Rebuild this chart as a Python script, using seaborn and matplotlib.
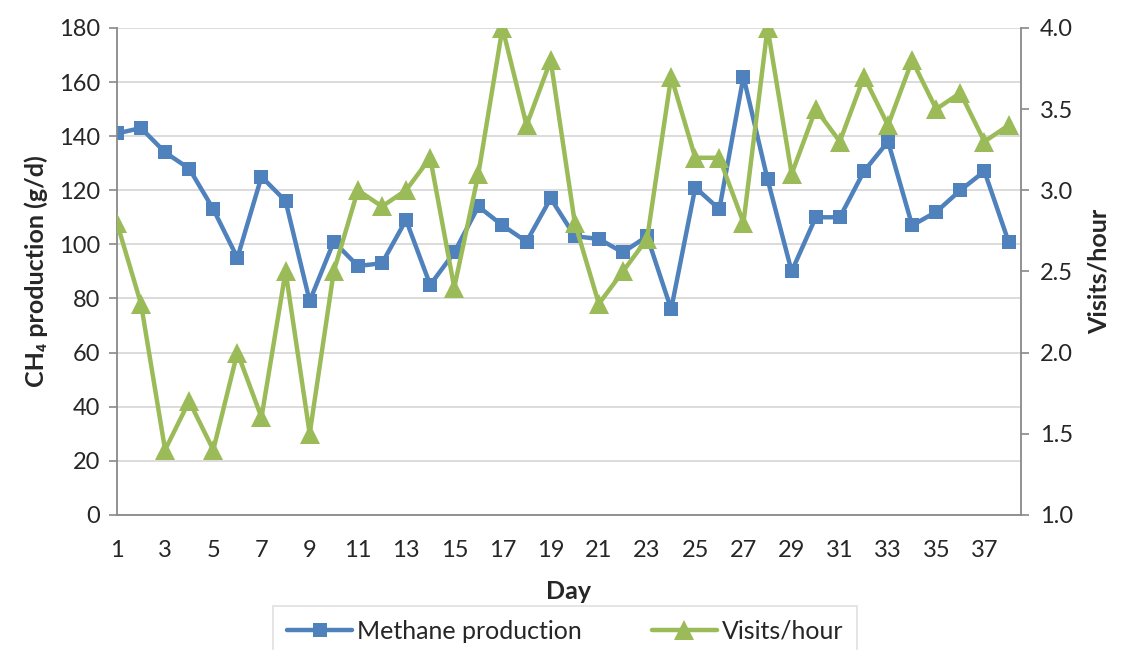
import matplotlib
matplotlib.use('Agg')
import matplotlib.pyplot as plt
import seaborn as sns
import pandas as pd
from matplotlib.ticker import MultipleLocator, FormatStrFormatter

days = list(range(1, 39))
methane = [141, 143, 134, 128, 113, 95, 125, 116, 79, 101,
           92, 93, 109, 85, 97, 114, 107, 101, 117, 103,
           102, 97, 103, 76, 121, 113, 162, 124, 90, 110,
           110, 127, 138, 107, 112, 120, 127, 101]
visits = [2.8, 2.3, 1.4, 1.7, 1.4, 2.0, 1.6, 2.5, 1.5, 2.5,
          3.0, 2.9, 3.0, 3.2, 2.4, 3.1, 4.0, 3.4, 3.8, 2.8,
          2.3, 2.5, 2.7, 3.7, 3.2, 3.2, 2.8, 4.0, 3.1, 3.5,
          3.3, 3.7, 3.4, 3.8, 3.5, 3.6, 3.3, 3.4]

blue = '#4F81BD'
green = '#9BBB59'
axis_grey = '#898989'

sns.set_style('white')
plt.rcParams['font.family'] = ['Lato', 'DejaVu Sans']

df = pd.DataFrame({'day': days, 'methane': methane, 'visits': visits})

fig, ax = plt.subplots(figsize=(11.24, 6.5), dpi=100)
fig.subplots_adjust(left=0.104, right=0.908, top=0.957, bottom=0.208)
ax2 = ax.twinx()

sns.lineplot(data=df, x='day', y='methane', ax=ax, color=blue, lw=3.2,
             marker='s', markersize=10, markeredgewidth=0, label='Methane production',
             legend=False)
sns.lineplot(data=df, x='day', y='visits', ax=ax2, color=green, lw=3.2,
             marker='^', markersize=14, markeredgewidth=0, label='Visits/hour',
             legend=False)

ax.set_xlim(1, 38.5)
ax.set_ylim(0, 180)
ax2.set_ylim(1.0, 4.0)
ax.yaxis.set_major_locator(MultipleLocator(20))
ax2.yaxis.set_major_locator(MultipleLocator(0.5))
ax2.yaxis.set_major_formatter(FormatStrFormatter('%.1f'))

# tick on every day, label only the odd ones
ax.set_xticks(days)
ax.set_xticklabels([str(d) if d % 2 == 1 else '' for d in days])

ax.grid(axis='y', color='#D9D9D9', lw=1.3)
ax.set_axisbelow(True)

for a in (ax, ax2):
    for s in a.spines.values():
        s.set_visible(False)
ax.spines['left'].set_visible(True)
ax.spines['bottom'].set_visible(True)
ax2.spines['right'].set_visible(True)
for s in (ax.spines['left'], ax.spines['bottom'], ax2.spines['right']):
    s.set_color(axis_grey)
    s.set_linewidth(1.3)

ax.tick_params(axis='both', labelsize=17, length=6, width=1.2, color=axis_grey,
               direction='out', labelcolor='#262626')
ax.tick_params(axis='x', pad=12)
ax.tick_params(axis='y', pad=6)
ax2.tick_params(axis='y', labelsize=17, length=6, width=1.2, color=axis_grey,
                direction='out', labelcolor='#262626', pad=8)

ax.set_xlabel('Day', fontsize=18, fontweight='bold', labelpad=14)
ax.set_ylabel('CH₄ production (g/d)', fontsize=18, fontweight='bold', labelpad=8)
ax2.set_ylabel('Visits/hour', fontsize=18, fontweight='bold', labelpad=10)

h1, l1 = ax.get_legend_handles_labels()
h2, l2 = ax2.get_legend_handles_labels()
leg = fig.legend(h1 + h2, l1 + l2, loc='upper center', bbox_to_anchor=(0.503, 0.068),
                 ncol=2, fontsize=18, frameon=True, fancybox=False,
                 edgecolor='#D9D9D9', handlelength=2.6, columnspacing=2.8,
                 borderpad=0.55, handletextpad=0.2, borderaxespad=0)
leg.get_frame().set_linewidth(1.2)

fig.savefig('out.png', dpi=100)
